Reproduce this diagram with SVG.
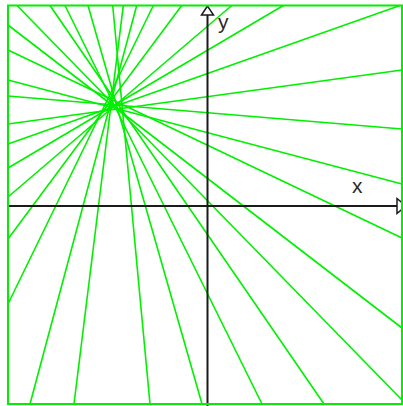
<svg xmlns="http://www.w3.org/2000/svg" width="403" height="406" viewBox="0 0 403 406">
<style>
.pl{stroke:#00f000;stroke-width:1.6;fill:none}
.ax{stroke:#1a1a1a;stroke-width:2;fill:none}
.ah{stroke:#1a1a1a;stroke-width:1.5;fill:#ffffff}
.lb{font-family:"Liberation Sans",Arial,sans-serif;font-size:21px;fill:#2a2a2a}
</style>
<rect x="0" y="0" width="403" height="406" fill="#ffffff"/>
<g id="pencil" class="pl">
<line x1="17" y1="5.5" x2="402" y2="400"/>
<line x1="50" y1="5.5" x2="324" y2="404"/>
<line x1="65" y1="5.5" x2="262" y2="404"/>
<line x1="88" y1="5.5" x2="202" y2="404"/>
<line x1="112.7" y1="5.5" x2="150" y2="404"/>
<line x1="123.3" y1="5.5" x2="74" y2="404"/>
<line x1="136.7" y1="5.5" x2="30" y2="404"/>
<line x1="153.3" y1="5.5" x2="8" y2="304"/>
<line x1="181.7" y1="5.5" x2="8" y2="239"/>
<line x1="231.7" y1="5.5" x2="8" y2="197"/>
<line x1="283.3" y1="5.5" x2="8" y2="168"/>
<line x1="400" y1="5.5" x2="8" y2="144"/>
<line x1="402" y1="70" x2="8" y2="124"/>
<line x1="402" y1="129" x2="8" y2="96"/>
<line x1="402" y1="184" x2="8" y2="80"/>
<line x1="402" y1="238" x2="8" y2="50"/>
<line x1="402" y1="328" x2="8" y2="25"/>
</g>
<g id="axes">
<line class="ax" x1="8" y1="206" x2="397" y2="206"/>
<line class="ax" x1="207.5" y1="406" x2="207.5" y2="15"/>
<polygon class="ah" points="397,198.5 406,206 397,213.5"/>
<polygon class="ah" points="207.5,6 201.5,15 213.5,15"/>
</g>
<rect id="frame" x="8" y="5.5" width="394" height="398.5" fill="none" stroke="#00f000" stroke-width="2"/>
<g id="labels">
<text class="lb" x="218" y="29">y</text>
<text class="lb" x="352" y="193">x</text>
</g>
</svg>
